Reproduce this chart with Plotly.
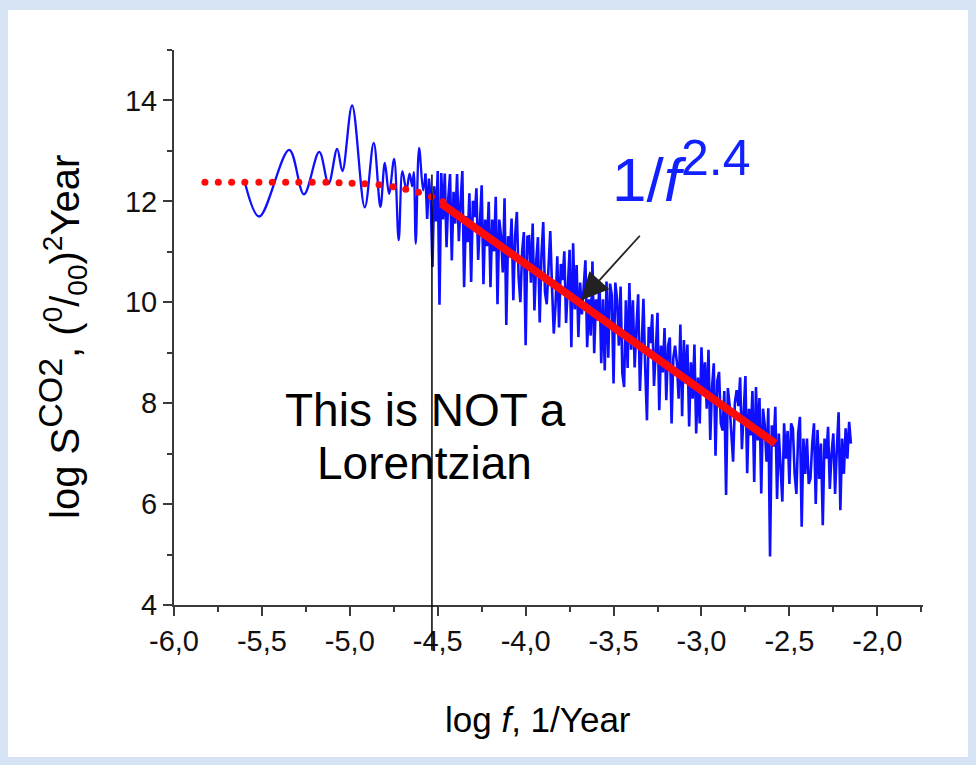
import plotly.graph_objects as go

# ---------------- data ----------------
# low-frequency part of the spectrum (smooth oscillations)
lf_x = [-5.597, -5.515, -5.345, -5.261, -5.174, -5.121, -5.072, -5.042, -4.987, -4.915,
        -4.864, -4.826, -4.801, -4.777, -4.748, -4.722, -4.701, -4.678, -4.660, -4.645,
        -4.636, -4.625, -4.606, -4.583, -4.570]
lf_y = [12.38, 11.70, 13.02, 12.14, 12.98, 12.35, 13.04, 12.60, 13.90, 11.88,
        13.16, 11.89, 12.76, 12.15, 12.84, 11.23, 12.60, 12.22, 12.55, 12.30,
        12.58, 11.16, 13.06, 12.22, 12.55]

# high-frequency (noisy) part of the spectrum
hf_x = [-4.57, -4.56, -4.55, -4.54, -4.53, -4.52, -4.51, -4.50, -4.49,
        -4.48, -4.47, -4.46, -4.45, -4.44, -4.43, -4.42, -4.41, -4.40, -4.39,
        -4.38, -4.37, -4.36, -4.35, -4.34, -4.33, -4.32, -4.31, -4.30, -4.29,
        -4.28, -4.27, -4.26, -4.25, -4.24, -4.23, -4.22, -4.21, -4.20, -4.19,
        -4.18, -4.17, -4.16, -4.15, -4.14, -4.13, -4.12, -4.11, -4.10, -4.09,
        -4.08, -4.07, -4.06, -4.05, -4.04, -4.03, -4.02, -4.01, -4.00, -3.99,
        -3.98, -3.97, -3.96, -3.95, -3.94, -3.93, -3.92, -3.91, -3.90, -3.89,
        -3.88, -3.87, -3.86, -3.85, -3.84, -3.83, -3.82, -3.81, -3.80, -3.79,
        -3.78, -3.77, -3.76, -3.75, -3.74, -3.73, -3.72, -3.71, -3.70, -3.69,
        -3.68, -3.67, -3.66, -3.65, -3.64, -3.63, -3.62, -3.61, -3.60, -3.59,
        -3.58, -3.57, -3.56, -3.55, -3.54, -3.53, -3.52, -3.51, -3.50, -3.49,
        -3.48, -3.47, -3.46, -3.45, -3.44, -3.43, -3.42, -3.41, -3.40, -3.39,
        -3.38, -3.37, -3.36, -3.35, -3.34, -3.33, -3.32, -3.31, -3.30, -3.29,
        -3.28, -3.27, -3.26, -3.25, -3.24, -3.23, -3.22, -3.21, -3.20, -3.19,
        -3.18, -3.17, -3.16, -3.15, -3.14, -3.13, -3.12, -3.11, -3.10, -3.09,
        -3.08, -3.07, -3.06, -3.05, -3.04, -3.03, -3.02, -3.01, -3.00, -2.99,
        -2.98, -2.97, -2.96, -2.95, -2.94, -2.93, -2.92, -2.91, -2.90, -2.89,
        -2.88, -2.87, -2.86, -2.85, -2.84, -2.83, -2.82, -2.81, -2.80, -2.79,
        -2.78, -2.77, -2.76, -2.75, -2.74, -2.73, -2.72, -2.71, -2.70, -2.69,
        -2.68, -2.67, -2.66, -2.65, -2.64, -2.63, -2.62, -2.61, -2.60, -2.59,
        -2.58, -2.57, -2.56, -2.55, -2.54, -2.53, -2.52, -2.51, -2.50, -2.49,
        -2.48, -2.47, -2.46, -2.45, -2.44, -2.43, -2.42, -2.41, -2.40, -2.39,
        -2.38, -2.37, -2.36, -2.35, -2.34, -2.33, -2.32, -2.31, -2.30, -2.29,
        -2.28, -2.27, -2.26, -2.25, -2.24, -2.23, -2.22, -2.21, -2.20, -2.19,
        -2.18, -2.17, -2.16, -2.15]
hf_y = [12.55, 11.65, 12.45, 12.05, 10.70, 12.30, 11.60, 12.60, 9.95,
        12.56, 11.64, 12.55, 11.09, 12.06, 12.54, 10.83, 12.19, 11.56, 12.54,
        11.21, 11.99, 12.60, 10.30, 11.71, 11.19, 12.16, 10.40, 12.01, 11.69,
        12.26, 10.84, 11.51, 12.32, 10.36, 11.64, 11.11, 11.99, 10.30, 11.64,
        11.01, 12.09, 9.96, 11.64, 11.31, 10.59, 12.06, 9.55, 11.31, 10.89,
        11.66, 10.04, 11.31, 11.79, 10.50, 10.00, 11.01, 11.39, 9.15, 11.30,
        11.31, 10.39, 11.56, 9.84, 10.81, 11.29, 9.60, 10.94, 11.59, 10.20,
        9.96, 10.74, 11.41, 10.30, 9.38, 9.94, 10.91, 9.50, 10.76, 10.44,
        11.01, 9.59, 10.26, 11.04, 9.11, 11.17, 9.86, 10.74, 9.31, 10.39,
        9.76, 10.30, 10.83, 9.11, 10.06, 9.34, 10.81, 8.99, 10.06, 9.64,
        10.41, 8.79, 10.06, 8.65, 10.41, 8.90, 10.37, 10.14, 8.39, 10.39,
        10.06, 9.14, 10.31, 8.59, 8.32, 10.04, 8.70, 10.38, 9.06, 10.04,
        8.71, 9.49, 10.16, 8.24, 9.21, 10.07, 8.70, 7.66, 9.51, 9.19,
        9.76, 8.34, 9.01, 9.79, 7.86, 9.14, 8.61, 9.49, 8.06, 9.14,
        9.30, 7.60, 8.90, 9.14, 8.81, 8.09, 9.56, 7.74, 9.25, 8.39,
        9.16, 7.54, 8.81, 8.09, 9.16, 7.40, 8.51, 7.60, 9.11, 8.20,
        8.81, 7.89, 9.06, 7.27, 8.31, 8.79, 6.96, 8.44, 8.62, 7.60,
        7.46, 8.24, 6.18, 8.30, 7.96, 7.44, 6.84, 8.00, 8.26, 7.94,
        8.51, 7.09, 7.76, 8.54, 6.61, 7.89, 7.36, 8.24, 6.44, 8.32,
        7.26, 8.10, 6.21, 7.89, 7.56, 6.84, 7.90, 4.96, 7.56, 7.14,
        7.93, 6.10, 7.40, 6.70, 6.05, 7.60, 6.90, 7.45, 6.40, 7.60,
        7.50, 6.60, 6.20, 7.40, 7.73, 5.55, 7.30, 6.60, 7.30, 6.40,
        6.50, 7.20, 7.60, 6.00, 7.47, 6.50, 7.20, 5.58, 7.30, 6.90,
        7.53, 6.30, 7.00, 7.40, 6.20, 7.10, 7.82, 5.88, 7.30, 6.60,
        7.50, 6.90, 7.63, 7.20]

# red dotted (plateau) part of the fit
dot_x = [-5.824, -5.748, -5.672, -5.597, -5.517, -5.441, -5.365, -5.290, -5.214, -5.136,
         -5.061, -4.987, -4.915, -4.834, -4.754, -4.682, -4.610, -4.536, -4.470]
dot_y = [12.38, 12.38, 12.38, 12.38, 12.38, 12.38, 12.38, 12.38, 12.38, 12.38,
         12.37, 12.36, 12.35, 12.33, 12.29, 12.24, 12.18, 12.09, 11.99]

# red solid 1/f^2.4 part of the fit
fit_x = [-4.48, -2.58]
fit_y = [11.96, 7.20]

# vertical black marker line
vline_x = -4.533
vline_y = [3.10, 12.53]

# arrow head (points to the fit line)
arrow_x, arrow_y = -3.684, 10.04

x_tickvals = [-6.0, -5.5, -5.0, -4.5, -4.0, -3.5, -3.0, -2.5, -2.0]
x_ticktext = ["-6,0", "-5,5", "-5,0", "-4,5", "-4,0", "-3,5", "-3,0", "-2,5", "-2,0"]
x_minor = [-5.75, -5.25, -4.75, -4.25, -3.75, -3.25, -2.75, -2.25, -1.75]
y_tickvals = [4, 6, 8, 10, 12, 14]
y_ticktext = ["4", "6", "8", "10", "12", "14"]
y_minor = [5, 7, 9, 11, 13, 15]

X_RANGE = [-6.0, -1.74]
Y_RANGE = [4.0, 15.0]

# ---------------- figure ----------------
W, H = 976, 765
L, R, T, B = 174, 53, 50, 160
PW, PH = W - L - R, H - T - B

BLUE = "#0f0fff"
RED = "#ff0a0a"
FONT = "Liberation Sans, Arial, sans-serif"

fig = go.Figure()
fig.add_trace(go.Scatter(x=lf_x, y=lf_y, mode="lines",
                         line=dict(color=BLUE, width=2.3, shape="spline", smoothing=1.0),
                         hoverinfo="skip", showlegend=False))
fig.add_trace(go.Scatter(x=hf_x, y=hf_y, mode="lines",
                         line=dict(color=BLUE, width=2.6),
                         hoverinfo="skip", showlegend=False))
fig.add_trace(go.Scatter(x=dot_x, y=dot_y, mode="markers",
                         marker=dict(color=RED, size=7, line=dict(width=0)),
                         hoverinfo="skip", showlegend=False))
fig.add_trace(go.Scatter(x=fit_x, y=fit_y, mode="lines",
                         line=dict(color=RED, width=8),
                         hoverinfo="skip", showlegend=False))


def xd(v):
    return (v - X_RANGE[0]) / (X_RANGE[1] - X_RANGE[0])


def yd(v):
    return (v - Y_RANGE[0]) / (Y_RANGE[1] - Y_RANGE[0])


shapes = [
    # white panel on light-blue slide background
    dict(type="rect", xref="paper", yref="paper", layer="below",
         x0=(8 - L) / PW, x1=(968 - L) / PW,
         y0=(H - B - 757) / PH, y1=(H - B - 10) / PH,
         fillcolor="white", line=dict(width=0)),
    dict(type="line", xref="x domain", yref="y domain",
         x0=xd(vline_x), x1=xd(vline_x), y0=yd(vline_y[0]), y1=yd(vline_y[1]),
         line=dict(color="black", width=1.5)),
]

annotations = [
    dict(x=arrow_x, y=arrow_y, xref="x", yref="y", ax=60, ay=-66, text="",
         showarrow=True, arrowhead=2, arrowsize=3.0, arrowwidth=1.8,
         arrowcolor="#222222", standoff=0),
    dict(x=-3.52, y=12.58, xref="x", yref="y", xanchor="left", yanchor="middle",
         text='1/<i>f</i><sup><span style="font-size:50px">2.4</span></sup>',
         showarrow=False,
         font=dict(family=FONT, size=62, color="#1020ff")),
    dict(x=-4.57, y=7.86, xref="x", yref="y", xanchor="center", yanchor="middle",
         text="This is NOT a", showarrow=False,
         font=dict(family=FONT, size=46, color="black")),
    dict(x=-4.575, y=6.81, xref="x", yref="y", xanchor="center", yanchor="middle",
         text="Lorentzian", showarrow=False,
         font=dict(family=FONT, size=46, color="black")),
    dict(x=(538 - L) / PW, y=(H - B - 719) / PH, xref="paper", yref="paper",
         xanchor="center", yanchor="middle", showarrow=False,
         text="log <i>f</i>, 1/Year",
         font=dict(family=FONT, size=35, color="black")),
    dict(x=(62 - L) / PW, y=(H - B - 337) / PH, xref="paper", yref="paper",
         xanchor="center", yanchor="middle", showarrow=False, textangle=-90,
         text=('log S<sup><span style="font-size:34px">CO2</span></sup>, '
               '(<sup>0</sup>/<sub>00</sub>)<sup>2</sup>Year'),
         font=dict(family=FONT, size=40, color="black")),
]

axis_common = dict(showgrid=False, zeroline=False, showline=True,
                   linecolor="#3a3a3a", linewidth=2, ticks="outside",
                   ticklen=9, tickwidth=1.5, tickcolor="#3a3a3a",
                   tickfont=dict(family=FONT, size=29, color="#111111"))

fig.update_layout(
    width=W, height=H,
    margin=dict(l=L, r=R, t=T, b=B, pad=0),
    paper_bgcolor="#d5e3f4",
    plot_bgcolor="rgba(0,0,0,0)",
    showlegend=False,
    shapes=shapes,
    annotations=annotations,
    xaxis=dict(range=X_RANGE, tickmode="array", tickvals=x_tickvals, ticktext=x_ticktext,
               minor=dict(tickmode="array", tickvals=x_minor, ticks="outside",
                          ticklen=5, tickwidth=1.5, tickcolor="#3a3a3a"),
               **axis_common),
    yaxis=dict(range=Y_RANGE, tickmode="array", tickvals=y_tickvals, ticktext=y_ticktext,
               minor=dict(tickmode="array", tickvals=y_minor, ticks="outside",
                          ticklen=5, tickwidth=1.5, tickcolor="#3a3a3a"),
               **axis_common),
)

fig.write_html("out.html")
